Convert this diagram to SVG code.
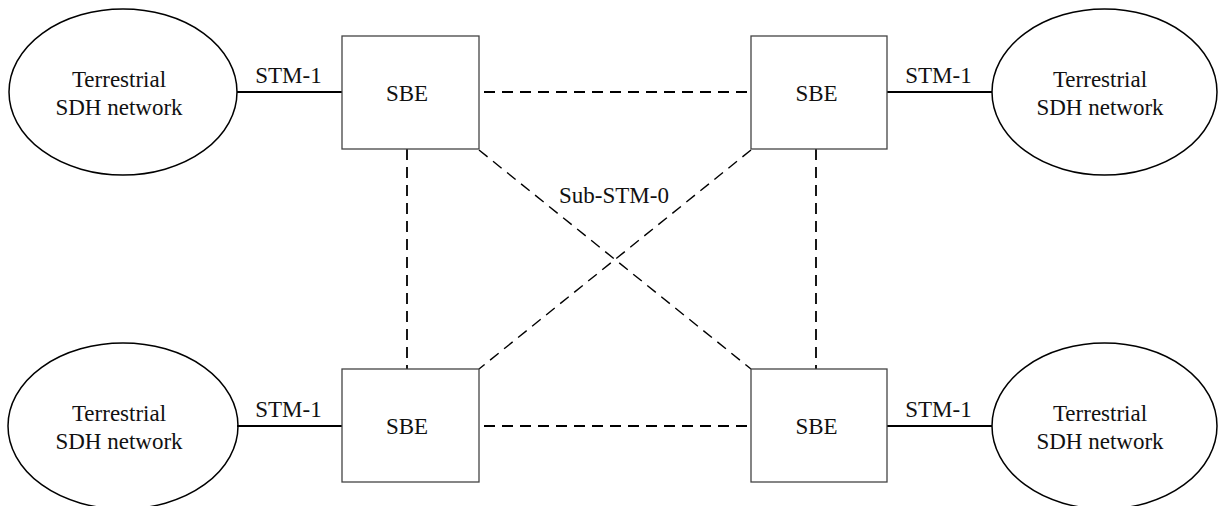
<svg xmlns="http://www.w3.org/2000/svg" width="1218" height="506" viewBox="0 0 1218 506">
<style>
.bg{fill:#ffffff}
.cloud{fill:none;stroke:#000;stroke-width:1.5}
.box{fill:#fff;stroke:#444;stroke-width:1.3}
.solid{stroke:#000;stroke-width:2;fill:none}
.dash{stroke:#000;stroke-width:1.8;stroke-dasharray:11 7;fill:none}
.diag{stroke:#000;stroke-width:1.4;stroke-dasharray:11 7;fill:none}
text{font-family:"Liberation Serif","Times New Roman",serif;font-size:23px;fill:#111;text-anchor:middle}
</style>
<rect class="bg" x="0" y="0" width="1218" height="506"/>
<g id="connectors">
<line class="solid" x1="237" y1="92" x2="342" y2="92"/>
<line class="solid" x1="237" y1="426" x2="342" y2="426"/>
<line class="solid" x1="887" y1="92" x2="992" y2="92"/>
<line class="solid" x1="887" y1="426" x2="992" y2="426"/>
<line class="dash" x1="484" y1="92" x2="751" y2="92"/>
<line class="dash" x1="484" y1="426" x2="751" y2="426"/>
<line class="dash" x1="407" y1="149" x2="407" y2="369"/>
<line class="dash" x1="816" y1="149" x2="816" y2="369"/>
<line class="diag" x1="479" y1="150" x2="751" y2="369"/>
<line class="diag" x1="751" y1="150" x2="479" y2="369"/>
<text x="288.5" y="83">STM-1</text>
<text x="288.5" y="417">STM-1</text>
<text x="938.5" y="83">STM-1</text>
<text x="938.5" y="417">STM-1</text>
<text x="614" y="203">Sub-STM-0</text>
</g>
<g id="net-tl">
<ellipse class="cloud" cx="123" cy="92" rx="114" ry="83"/>
<text x="119" y="87">Terrestrial</text>
<text x="119" y="115">SDH network</text>
</g>
<g id="net-bl">
<ellipse class="cloud" cx="123" cy="426" rx="115" ry="83"/>
<text x="119" y="421">Terrestrial</text>
<text x="119" y="449">SDH network</text>
</g>
<g id="net-tr">
<ellipse class="cloud" cx="1104.5" cy="92" rx="112.5" ry="83"/>
<text x="1100" y="87">Terrestrial</text>
<text x="1100" y="115">SDH network</text>
</g>
<g id="net-br">
<ellipse class="cloud" cx="1104.5" cy="426" rx="112.5" ry="83"/>
<text x="1100" y="421">Terrestrial</text>
<text x="1100" y="449">SDH network</text>
</g>
<g id="sbe-tl">
<rect class="box" x="342" y="36" width="137" height="113"/>
<text x="407" y="101">SBE</text>
</g>
<g id="sbe-tr">
<rect class="box" x="751" y="36" width="136" height="113"/>
<text x="816.5" y="101">SBE</text>
</g>
<g id="sbe-bl">
<rect class="box" x="342" y="369" width="137" height="113"/>
<text x="407" y="434">SBE</text>
</g>
<g id="sbe-br">
<rect class="box" x="751" y="369" width="136" height="113"/>
<text x="816.5" y="434">SBE</text>
</g>
</svg>
